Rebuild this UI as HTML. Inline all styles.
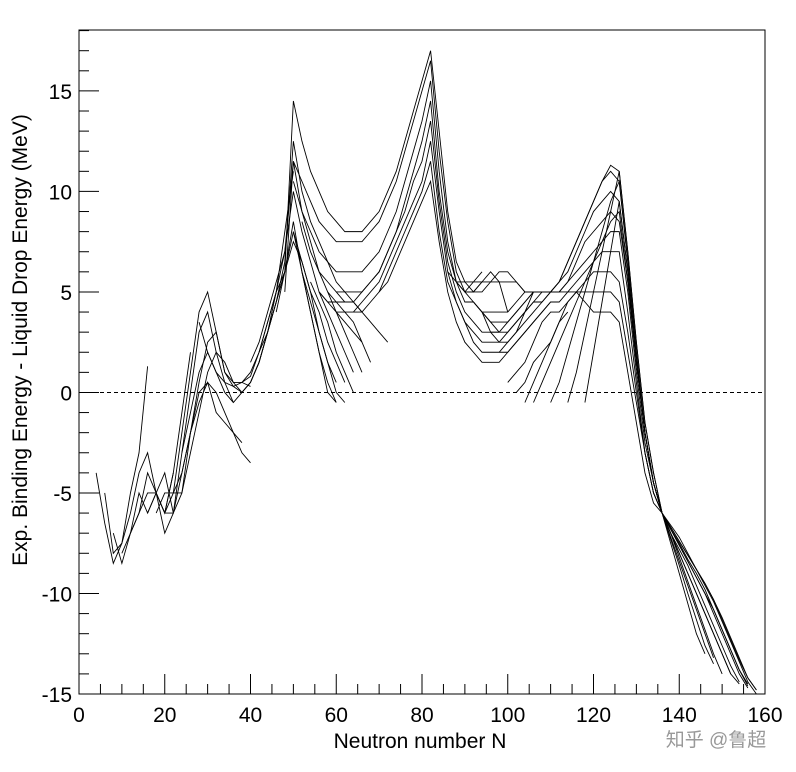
<!DOCTYPE html>
<html><head><meta charset="utf-8"><style>
body{margin:0;background:#fff;}
svg{display:block;font-family:"Liberation Sans","Noto Sans CJK SC",sans-serif;}
</style></head><body>
<svg id="chart" width="796" height="772">
<rect x="79" y="30" width="686" height="664" fill="none" stroke="#000" stroke-width="1"/>
<g id="ticks"></g>
<g id="lines"></g>
<text x="420" y="748" font-size="21" text-anchor="middle">Neutron number N</text>
<text transform="translate(27,340) rotate(-90)" font-size="21" text-anchor="middle">Exp. Binding Energy - Liquid Drop Energy (MeV)</text>
<text x="716" y="746" font-size="19" fill="#999" text-anchor="middle">知乎 @鲁超</text>
</svg>
<script>
const xTicks=[0,20,40,60,80,100,120,140,160];
const yTicks=[-15,-10,-5,0,5,10,15];
const seriesStart=[4,6,8,10,12,16,18,20,22,24,
28,34,38,40,42,44,46,48,50,52,56,60,64,70,
50,52,54,56,58,60,
86,88,90,92,94,96,98,100,102,106,110,114,118,104];
const seriesValues=[
[-4,-6.5,-8.5,-7.5,-5,-3,1.3],
[-5,-8,-7.5,-6,-4,-3,-5,-6,-4],
[-7,-8.5,-7,-5,-6,-5,-6,-4,-1,2],
[-8,-7,-6,-4,-5,-6,-5,-2,1,4,5,3,1],
[-7,-6,-5,-5,-7,-6,-3,0,3,4,2,0.5,-0.5],
[-6,-5,-4,-6,-5,-2,0.5,2.5,3,1,0.5,0.5,0.3],
[-6,-5,-5,-5,-3,-1,1,2,1.5,0.5,0,0.5,1.5,3],
[-6,-6,-4,-2,0,0.5,0,-1,-2,-3,-3.5],
[-5,-4,-2,-0.5,0.5,-1,-1.5,-2,-2.5],
[-3,-1,1,2,1,0,-0.5,0,0.5,1.5,3,5,8,11],
[3.5,2,1,0.5,0.3,0.5,1,2,3,4.5,6,8.5,6,4,2,0.5,-0.5],
[1,0.3,0,0.5,1.5,3,4.5,6,8,6.5,5,3,1.5,0,-0.5],
[0.5,0.8,2,3.5,5,6,7.5,6.5,5,4,2.5,1.5,0.5],
[1.5,2.5,4,5.5,7,10,8,6.5,5,4,3,2,1],
[2,3.5,5,7,11.5,9,7.5,6,5,4,3.5,3,2.5],
[3,4.5,6.5,12.5,10,8.5,7.5,6.5,5.5,5,4.5,4],
[4,6,14.5,12.5,11,10,9,8.5,8,8,8,8.5,9,10,11,12.5,14,15.5,17,13,9,6.5,5.5,5,5.5],
[5,11.5,10.5,9.5,8.5,8,7.5,7.5,7.5,7.5,8,8.5,9.5,10.5,12,13.5,15,16.5,12,8.5,6,5,5.5,6],
[10.5,9,8,7,6.5,6,6,6,6,6.5,7,8,9,10.5,12,13.5,15.5,11,7.5,5.5,5,5,5.5,6,5.5,4],
[8.5,7,6,5.5,5,5,5,5,5.5,6,7,8,9.5,11,12.5,14.5,10,7,5.5,4.5,4.5,4,3.5,3],
[5,4.5,4.5,4.5,4.5,5,5.5,6,7,8,9,10.5,11.5,13.5,9.5,6.5,5,4,3.5,3,3,3,3.5,4,4.5,5],
[4,4,4,4.5,5,5.5,6.5,7.5,8.5,9.5,10.5,12.5,9,6,4.5,3.5,2.5,2,2,2,2.5,3,4,5],
[4,4,4.5,5,6,7,8,9,10,11.5,8,5.5,4.5,3.5,3,2.5,2.5,2.5,3,3.5,4,4.5,5,5],
[5,5.5,6.5,7.5,8.5,9.5,10.5,7.5,5,3.5,2.5,2,1.5,1.5,1.5,2,2.5,3,3.5,4,4.5],
[8,6,4,2,0,-0.5],
[6,4.5,3,1.5,0.5],
[5.5,4.5,3.5,2,1,0],
[5,4.5,4,3,2,1],
[5,4.5,4,3.5,2.5,1.5],
[5,4.5,4.5,4,3.5,3,2.5],
[6,5.5,5.5,5.5,5.5,5.5,5.5,5.5,5.5,5,5,5,5,5.5,6.5,7.5,8.5,9.5,10.5,11.3,11,7,2.5,-1.5,-4,-6,-7.5,-9,-10.5,-12,-13],
[5.5,5,5,5,5.5,6,6,5.5,5,5,5,5,5.5,6.5,7.5,8.5,9.5,10.5,11,10.5,6.5,2,-2,-4.5,-6,-7.3,-8.6,-10,-11.3,-12.6,-13.5],
[5,4.5,4,4,4,4,4.5,5,5,5,5,5.5,6,7,8,9,9.5,10,9.5,6,1.5,-2,-4.5,-6,-7.2,-8.4,-9.6,-10.8,-12,-13.2],
[4.5,4,3.5,3.5,3.5,4,4.5,5,5,5,5,5.5,6.5,7.5,8,8.5,9,8.5,5.5,1.5,-2,-4.5,-6,-7,-8.2,-9.4,-10.6,-11.8,-13,-14],
[4,3,3,3,3.5,4,4.5,4.5,5,5,5.5,6,6.5,7,7.5,8,8,5,1,-2.5,-4.5,-6,-7,-8,-9,-10,-11,-12,-13,-14],
[3,2.5,2.5,3,3.5,4,4.5,5,5,5,5.5,6,6.5,7,7,7,4,0.5,-3,-5,-6,-7,-7.8,-8.6,-9.6,-10.6,-11.6,-12.6,-13.6,-14.4],
[2,2,2.5,3,3.5,4,4.5,4.5,5,5,5.5,6,6,6,5.5,3,0,-3,-5,-6,-6.8,-7.6,-8.4,-9.2,-10,-11,-12,-13,-14,-14.7],
[0.5,1,1.5,2.5,3.5,4,4,4.5,5,5,5,5,5,4.5,2,-0.5,-3,-5,-6,-6.8,-7.5,-8.3,-9,-9.8,-10.8,-11.8,-12.8,-13.8,-14.5],
[0,0.5,1.5,2,2.5,3.5,4.5,5,4.5,4,4,4,3.5,1,-1.5,-4,-5.5,-6,-6.7,-7.4,-8.1,-8.8,-9.5,-10.3,-11.3,-12.3,-13.3,-14.2,-14.8],
[-0.5,0.5,1.5,2.5,3.5,4.5,5.5,6.5,7.5,8.5,9,5.5,1.5,-2,-4.5,-6,-7,-8,-9,-10,-11,-12,-13,-14,-14.5],
[-0.5,0.5,2,3.5,5,6.5,8,9.5,10.5,6.5,2,-2,-4.5,-6,-6.7,-7.4,-8.1,-8.8,-9.5,-10.3,-11.2,-12.2,-13.2,-14.2,-14.8],
[-0.5,1,3,5,7,9,11,7,2.5,-1.5,-4,-6,-6.8,-7.6,-8.4,-9.2,-10,-10.8,-11.8,-12.8,-13.8,-14.6],
[-0.5,2,4.5,7,9.5,6,1.5,-2,-4.5,-6,-6.6,-7.2,-8,-8.8,-9.6,-10.4,-11.4,-12.4,-13.4,-14.4,-15],
[-0.5,0.5,1.5,2.5,3.5,4]
];
const X0=79,X1=765,Y0=694,Y1=30,xmin=0,xmax=160,ymin=-15,ymax=18.03;
const sx=v=>X0+(v-xmin)/(xmax-xmin)*(X1-X0);
const sy=v=>Y0-(v-ymin)/(ymax-ymin)*(Y0-Y1);
const NS="http://www.w3.org/2000/svg";
const tg=document.getElementById('ticks');
function ln(x1,y1,x2,y2,dash){const l=document.createElementNS(NS,'line');l.setAttribute('x1',x1);l.setAttribute('y1',y1);l.setAttribute('x2',x2);l.setAttribute('y2',y2);l.setAttribute('stroke','#000');l.setAttribute('stroke-width','1');if(dash)l.setAttribute('stroke-dasharray',dash);return l;}
for(let v=0;v<=160;v+=5){const t=ln(sx(v),Y0,sx(v),Y0-(v%20==0?20:10));


tg.appendChild(t);}
for(let v=-15;v<=18;v+=1){const t=ln(X0,sy(v),X0+(v%5==0?20:10),sy(v));


tg.appendChild(t);}
xTicks.forEach(v=>{const t=document.createElementNS(NS,'text');t.setAttribute('x',sx(v));t.setAttribute('y',722);t.setAttribute('font-size','21');t.setAttribute('text-anchor','middle');t.textContent=v;


tg.appendChild(t);});
yTicks.forEach(v=>{const t=document.createElementNS(NS,'text');t.setAttribute('x',72);t.setAttribute('y',sy(v)+8);t.setAttribute('font-size','21');t.setAttribute('text-anchor','end');t.textContent=v;


tg.appendChild(t);});
const z=ln(X0,sy(0),X1,sy(0),'4,3');


tg.appendChild(z);
const lg=document.getElementById('lines');
seriesValues.forEach((vals,i)=>{const p=document.createElementNS(NS,'polyline');
p.setAttribute('points',vals.map((v,j)=>sx(seriesStart[i]+2*j)+','+sy(v)).join(' '));
p.setAttribute('fill','none');p.setAttribute('stroke','#000');p.setAttribute('stroke-width','0.9');


lg.appendChild(p);});
</script>
</body></html>
